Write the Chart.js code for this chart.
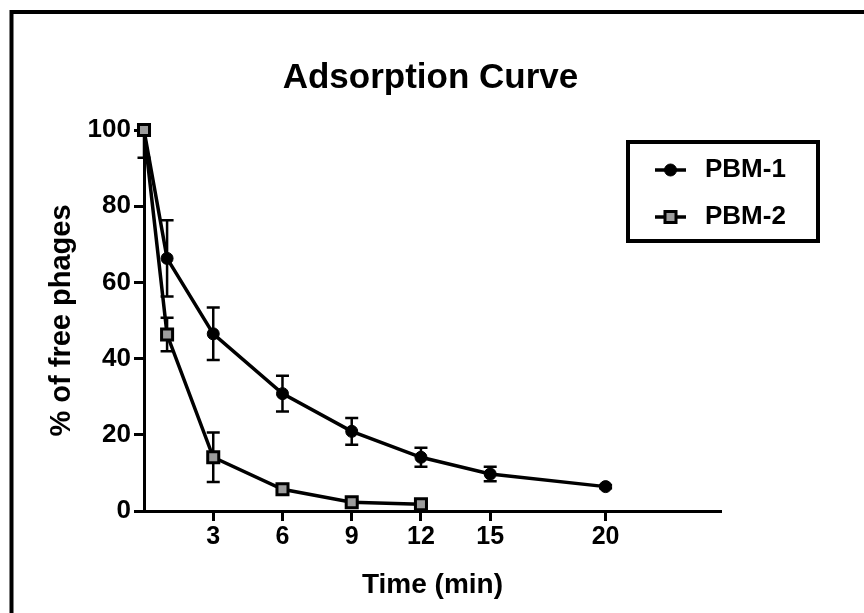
<!DOCTYPE html>
<html><head><meta charset="utf-8">
<style>html,body{margin:0;padding:0;background:#fff;} canvas{display:block}</style>
<script src="https://cdn.jsdelivr.net/npm/chart.js@4.4.1/dist/chart.umd.min.js"></script>
</head><body>
<canvas id="c" width="864" height="613"></canvas>
<script>
const chartTitle = 'Adsorption Curve';
const xTitle = 'Time (min)';
const yTitle = '% of free phages';
const seriesNames = ['PBM-1', 'PBM-2'];
const pbm1Time = [0, 1, 3, 6, 9, 12, 15, 20];
const pbm1Free = [100, 66.3, 46.5, 30.8, 20.9, 14.1, 9.7, 6.4];
const pbm1Err  = [7.3, 10, 6.9, 4.7, 3.5, 2.5, 1.9, 0.4];
const pbm2Time = [0, 1, 3, 6, 9, 12];
const pbm2Free = [100, 46.3, 14.1, 5.7, 2.3, 1.8];
const pbm2Err  = [0, 4.4, 6.5, 0.6, 0.5, 0.4];
const xTicks = [3, 6, 9, 12, 15, 20];
const yTicks = [0, 20, 40, 60, 80, 100];

const FONT = "'Liberation Sans', Arial, Helvetica, sans-serif";
const toPts = (xs, ys) => xs.map((x, i) => ({x: x, y: ys[i]}));

const framePlugin = {
  id: 'frame',
  beforeDraw(chart) {
    const ctx = chart.ctx;
    ctx.save();
    ctx.fillStyle = '#fff';
    ctx.fillRect(0, 0, chart.width, chart.height);
    ctx.strokeStyle = '#000';
    ctx.lineWidth = 4;
    ctx.strokeRect(11.5, 12, 1000, 1000);
    ctx.restore();
  }
};

const titlePlugin = {
  id: 'ownTitle',
  afterDraw(chart) {
    const ctx = chart.ctx;
    ctx.save();
    ctx.fillStyle = '#000';
    ctx.font = 'bold 35px ' + FONT;
    ctx.textAlign = 'center';
    ctx.textBaseline = 'alphabetic';
    ctx.fillText(chartTitle, 430.5, 88);
    ctx.restore();
  }
};

const errorBarPlugin = {
  id: 'errorBars',
  beforeDatasetDraw(chart, args) {
    const ds = chart.data.datasets[args.index];
    if (!ds.errors) return;
    const xs = chart.scales.x, ys = chart.scales.y, area = chart.chartArea;
    const ctx = chart.ctx;
    ctx.save();
    ctx.beginPath();
    ctx.rect(area.left - 20, area.top, area.right - area.left + 40, area.bottom - area.top + 10);
    ctx.clip();
    ctx.strokeStyle = '#000';
    ctx.lineWidth = 2.5;
    ds.data.forEach((p, i) => {
      const e = ds.errors[i];
      if (!e) return;
      const px = xs.getPixelForValue(p.x);
      const yt = ys.getPixelForValue(p.y + e);
      const yb = ys.getPixelForValue(p.y - e);
      ctx.beginPath();
      ctx.moveTo(px, yt); ctx.lineTo(px, yb);
      ctx.moveTo(px - 6.5, yt); ctx.lineTo(px + 6.5, yt);
      ctx.moveTo(px - 6.5, yb); ctx.lineTo(px + 6.5, yb);
      ctx.stroke();
    });
    ctx.restore();
  }
};

const legendPlugin = {
  id: 'boxLegend',
  afterDraw(chart) {
    const ctx = chart.ctx;
    ctx.save();
    ctx.strokeStyle = '#000';
    ctx.lineWidth = 4;
    ctx.strokeRect(628, 142, 190, 99);
    chart.data.datasets.forEach((ds, i) => {
      const y = 170 + i * 47;
      ctx.strokeStyle = '#000';
      ctx.lineWidth = 3.5;
      ctx.beginPath(); ctx.moveTo(655, y); ctx.lineTo(686, y); ctx.stroke();
      ctx.fillStyle = ds.pointBackgroundColor;
      ctx.strokeStyle = ds.pointBorderColor;
      ctx.lineWidth = ds.pointBorderWidth;
      Chart.helpers.drawPoint(ctx, {pointStyle: ds.pointStyle, radius: ds.pointRadius, borderWidth: ds.pointBorderWidth, rotation: 0}, 670.5, y);
      ctx.fillStyle = '#000';
      ctx.font = 'bold 26px ' + FONT;
      ctx.textAlign = 'left';
      ctx.textBaseline = 'middle';
      ctx.fillText(ds.label, 705, y);
    });
    ctx.restore();
  }
};

const axisCommon = {
  grid: {display: true, drawOnChartArea: false, drawTicks: true, tickLength: 10, tickWidth: 3, tickColor: '#000'},
  border: {display: true, color: '#000', width: 3},
};

new Chart(document.getElementById('c'), {
  type: 'line',
  data: {
    datasets: [
      {
        label: seriesNames[0],
        data: toPts(pbm1Time, pbm1Free),
        errors: pbm1Err,
        borderColor: '#000', borderWidth: 3.5, tension: 0,
        pointStyle: 'circle', pointRadius: 6,
        pointBackgroundColor: '#000', pointBorderColor: '#000', pointBorderWidth: 1,
        order: 2
      },
      {
        label: seriesNames[1],
        data: toPts(pbm2Time, pbm2Free),
        errors: pbm2Err,
        borderColor: '#000', borderWidth: 3.5, tension: 0,
        pointStyle: 'rect', pointRadius: 7.8,
        pointBackgroundColor: '#9c9c9c', pointBorderColor: '#000', pointBorderWidth: 3,
        order: 1
      }
    ]
  },
  options: {
    responsive: false,
    animation: false,
    clip: false,
    layout: {padding: {left: 0, right: 143, top: 130, bottom: 0}},
    plugins: {legend: {display: false}, tooltip: {enabled: false}, title: {display: false}},
    scales: {
      x: Object.assign({}, axisCommon, {
        type: 'linear', min: 0, max: 25,
        afterBuildTicks: s => { s.ticks = xTicks.map(v => ({value: v})); },
        afterFit: s => { s.height = 102; },
        ticks: {font: {family: FONT, size: 25, weight: 'bold'}, color: '#000', padding: 1, maxRotation: 0, autoSkip: false},
        title: {display: true, text: xTitle, color: '#000', font: {family: FONT, size: 28, weight: 'bold'}, padding: {top: 0, bottom: 11}}
      }),
      y: Object.assign({}, axisCommon, {
        type: 'linear', min: 0, max: 100,
        afterBuildTicks: s => { s.ticks = yTicks.map(v => ({value: v})); },
        afterFit: s => { s.width = 144; },
        ticks: {font: {family: FONT, size: 26, weight: 'bold'}, color: '#000', padding: 3},
        title: {display: true, text: yTitle, color: '#000', font: {family: FONT, size: 29, weight: 'bold'}, padding: {top: 45, bottom: 0}}
      })
    }
  },
  plugins: [framePlugin, errorBarPlugin, legendPlugin, titlePlugin]
});
</script>
</body></html>
